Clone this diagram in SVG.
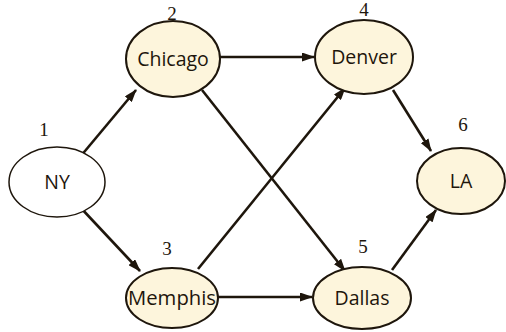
<svg xmlns="http://www.w3.org/2000/svg" width="506" height="332" viewBox="0 0 506 332">
<style>
.n{fill:#fdf5dc;stroke:#1e160c;stroke-width:2}
.w{fill:#ffffff;stroke:#1e160c;stroke-width:1.5}
.t{font-family:"Open Sans","Liberation Sans",sans-serif;font-size:19.5px;fill:#1e160c;text-anchor:middle}
.num{font-family:"Liberation Serif",serif;font-size:19px;fill:#1e160c;text-anchor:middle}
.e{stroke:#1e160c;stroke-width:2.6;fill:none;marker-end:url(#a)}
</style>
<defs>
<marker id="a" markerWidth="13" markerHeight="9" refX="12" refY="4.5" orient="auto" markerUnits="userSpaceOnUse" viewBox="0 0 13 9">
<path d="M0,0 L13,4.5 L0,9 Z" fill="#1e160c"/>
</marker>
</defs>
<g id="edges">
<line class="e" x1="80" y1="157" x2="136" y2="90"/>
<line class="e" x1="80" y1="207" x2="140" y2="271"/>
<line class="e" x1="220" y1="57" x2="314" y2="57"/>
<line class="e" x1="202" y1="90" x2="345" y2="271"/>
<line class="e" x1="198" y1="269" x2="345" y2="88"/>
<line class="e" x1="218" y1="297" x2="312" y2="297"/>
<line class="e" x1="393" y1="90" x2="431" y2="151"/>
<line class="e" x1="392" y1="270" x2="436" y2="210"/>
</g>
<g id="ny"><ellipse class="w" cx="57" cy="182" rx="48" ry="35"/><text class="t" x="57" y="189">NY</text><text class="num" x="44" y="136">1</text></g>
<g id="chicago"><ellipse class="n" cx="173" cy="59" rx="47" ry="38"/><text class="t" x="173" y="66">Chicago</text><text class="num" x="172" y="20">2</text></g>
<g id="denver"><ellipse class="n" cx="364" cy="57" rx="49" ry="37"/><text class="t" x="364" y="64">Denver</text><text class="num" x="364" y="16">4</text></g>
<g id="memphis"><ellipse class="n" cx="172" cy="298" rx="46" ry="30"/><text class="t" x="172" y="305" textLength="88" lengthAdjust="spacingAndGlyphs">Memphis</text><text class="num" x="167" y="255">3</text></g>
<g id="dallas"><ellipse class="n" cx="362" cy="298" rx="49" ry="31"/><text class="t" x="362" y="305">Dallas</text><text class="num" x="363" y="253">5</text></g>
<g id="la"><ellipse class="n" cx="461" cy="181" rx="44" ry="33"/><text class="t" x="461" y="188">LA</text><text class="num" x="463" y="131">6</text></g>
</svg>
